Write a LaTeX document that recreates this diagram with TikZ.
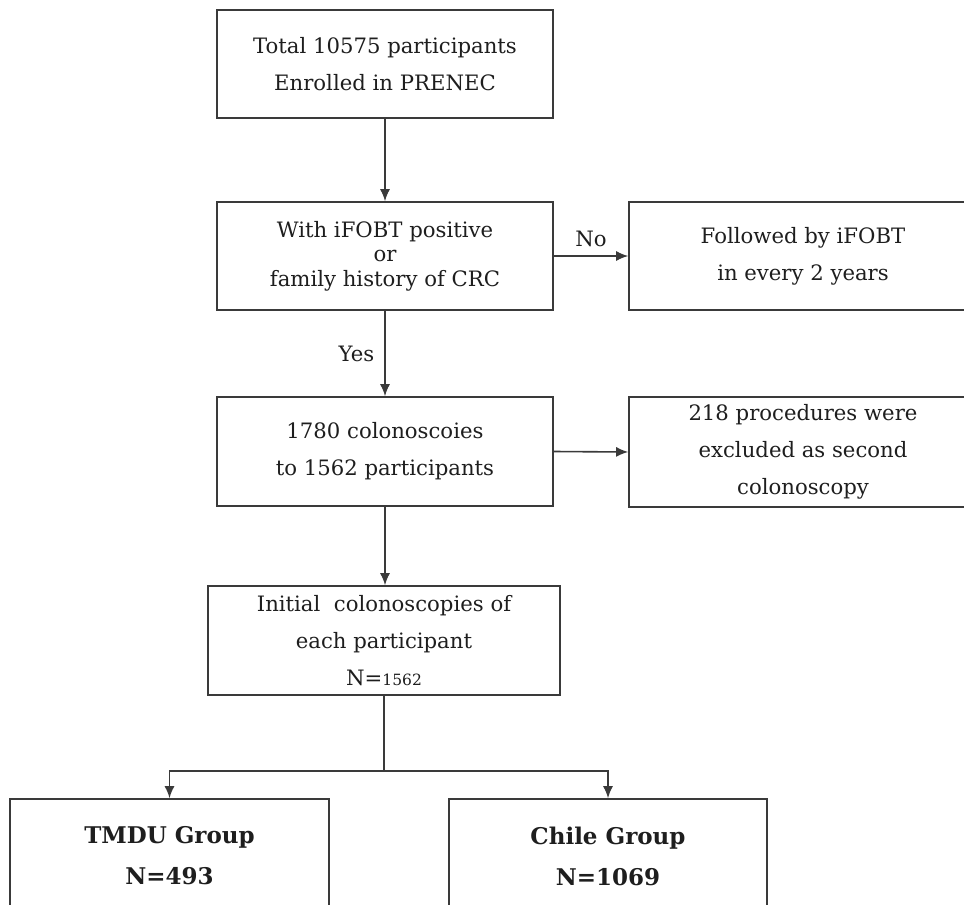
\documentclass[tikz,border=0pt]{standalone}
\usepackage{fontspec}
\setmainfont{DejaVu Serif}
\usetikzlibrary{arrows.meta}
\definecolor{lin}{HTML}{3A3A3A}
\definecolor{txt}{HTML}{1E1E1E}
\tikzset{
  box/.style={draw=lin, line width=1.6pt, rectangle, inner sep=0pt, align=center, text=txt,
    font=\fontsize{21.2}{37}\selectfont},
  tight/.style={font=\fontsize{21.2}{24.5}\selectfont},
  bottombox/.style={box, font=\fontsize{23}{41}\selectfont\bfseries},
  arr/.style={draw=lin, line width=1.6pt, -{Latex[length=12pt,width=10pt]}},
  ln/.style={draw=lin, line width=1.6pt},
  lbl/.style={text=txt, font=\fontsize{21.2}{22}\selectfont, inner sep=0pt}
}
\begin{document}
\begin{tikzpicture}[x=1pt,y=-1pt]
\useasboundingbox (0,0) rectangle (964,905);
\clip (0,0) rectangle (964,905);
\fill[white] (0,0) rectangle (964,905);
\node[box, minimum width=336pt, minimum height=108pt] (b1) at (385,64) {Total 10575 participants\\Enrolled in PRENEC};
\node[box, tight, minimum width=336pt, minimum height=108pt] (b2) at (385,256) {With iFOBT positive\\or\\family history of CRC};
\node[box, minimum width=348pt, minimum height=108pt] (r1) at (803,256) {Followed by iFOBT\\in every 2 years};
\node[box, minimum width=336pt, minimum height=109pt] (b3) at (385,451.5) {1780 colonoscoies\\to 1562 participants};
\node[box, minimum width=348pt, minimum height=110pt] (r2) at (803,452) {218 procedures were\\excluded as second\\colonoscopy};
\node[box, minimum width=352pt, minimum height=109pt] (b4) at (384,640.5) {Initial\ \ colonoscopies of\\each participant\\N={\fontsize{15.5}{37}\selectfont 1562}};
\node[bottombox, minimum width=319pt, minimum height=114pt] (g1) at (169.5,856) {TMDU Group\\N=493};
\node[bottombox, minimum width=318pt, minimum height=114pt] (g2) at (608,856) {Chile Group\\N=1069};
\coordinate (j) at (384,771);

\draw[arr] (b1.south) -- (b2.north);
\draw[arr] (b2.east) -- (r1.west) node[lbl, pos=0.5, above=8pt] (no) {No};
\draw[arr] (b2.south) -- (b3.north) node[lbl, pos=0.5, left=10pt] (yes) {Yes};
\draw[arr] (b3.east) -- (r2.west);
\draw[arr] (b3.south) -- (b3.south |- b4.north);
\draw[ln] (b4.south) -- (j);
\draw[arr] (j) -| (g1.north);
\draw[arr] (j) -| (g2.north);
\end{tikzpicture}
\end{document}
